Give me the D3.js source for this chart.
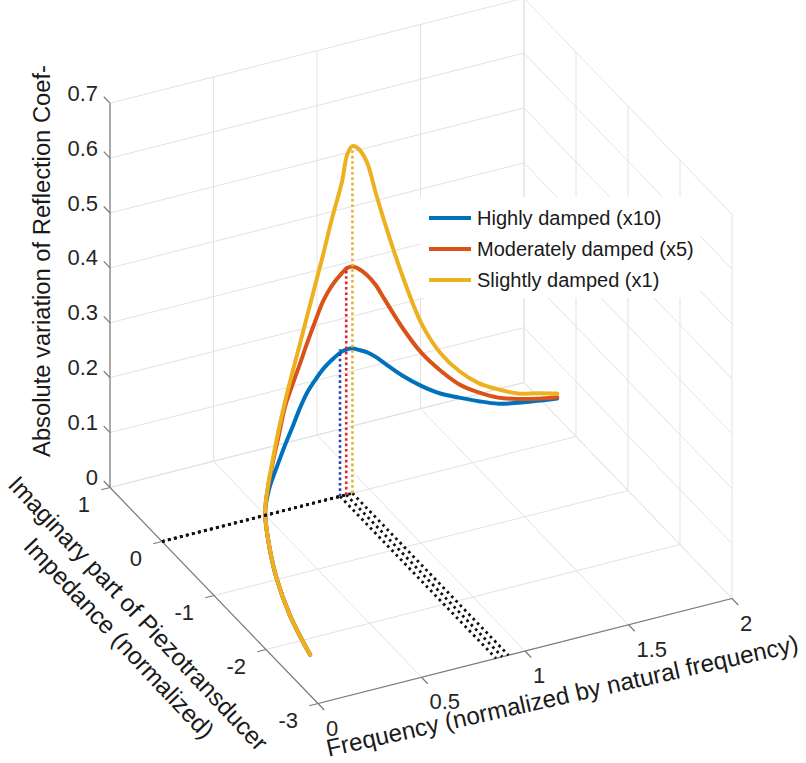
<!DOCTYPE html>
<html><head><meta charset="utf-8">
<script src="https://cdn.jsdelivr.net/npm/d3@7"></script>
<style>
body{margin:0;background:#fff}
svg{display:block}
text{font-family:"Liberation Sans",Arial,Helvetica,sans-serif}
</style>
</head><body>
<svg id="chart" width="806" height="763"></svg>
<script>
// ---------- data ----------
const frequency = [0.1,0.15,0.2,0.25,0.3,0.35,0.4,0.45,0.5,0.55,0.6,0.65,0.7,0.75,0.8,0.86,0.89,0.92,0.95,1.0,1.05,1.1,1.2,1.3,1.4,1.5,1.6,1.7,1.8,1.9,2.0];
const imagImpedance = [-2.45,-1.86,-1.40,-1.05,-0.79,-0.65,-0.55,-0.46,-0.37,-0.31,-0.25,-0.2,-0.16,-0.115,-0.08,-0.04,-0.02,0,0.017,0.045,0.07,0.095,0.14,0.18,0.22,0.25,0.28,0.30,0.32,0.34,0.36];
const highlyDamped = [0.025,0.035,0.054,0.08,0.102,0.12,0.135,0.149,0.163,0.184,0.207,0.228,0.243,0.254,0.262,0.268,0.267,0.264,0.257,0.245,0.229,0.210,0.173,0.141,0.114,0.094,0.075,0.059,0.049,0.041,0.034];
const moderatelyDamped = [0.025,0.035,0.054,0.08,0.104,0.132,0.165,0.198,0.232,0.261,0.287,0.318,0.350,0.378,0.397,0.411,0.415,0.413,0.405,0.386,0.360,0.326,0.259,0.201,0.156,0.118,0.091,0.070,0.056,0.045,0.036];
const slightlyDamped = [0.025,0.035,0.054,0.08,0.105,0.134,0.171,0.209,0.241,0.283,0.322,0.367,0.416,0.463,0.518,0.578,0.622,0.632,0.624,0.592,0.528,0.466,0.352,0.254,0.188,0.142,0.108,0.085,0.066,0.055,0.043];
const seriesNames = ["Highly damped (x10)","Moderately damped (x5)","Slightly damped (x1)"];
const seriesColors = ["#0072BD","#D95319","#EDB120"];
const markerColors = ["#2f3fb0","#e0242a","#e8b030"];
const xTicks = [0,0.5,1,1.5,2];
const xTickLabels = ["0","0.5","1","1.5","2"];
const yTicks = [-3,-2,-1,0,1];
const yTickLabels = ["-3","-2","-1","0","1"];
const zTicks = [0,0.1,0.2,0.3,0.4,0.5,0.6,0.7];
const zTickLabels = ["0","0.1","0.2","0.3","0.4","0.5","0.6","0.7"];
const xTitle = "Frequency (normalized by natural frequency)";
const yTitle = ["Imaginary part of Piezotransducer","Impedance (normalized)"];
const zTitle = "Absolute variation of Reflection Coef-";

// ---------- projection ----------
const xS = d3.scaleLinear().domain([0,2]).range([0,1]);
const yS = d3.scaleLinear().domain([-3,1]).range([0,1]);
const zS = d3.scaleLinear().domain([0,0.7]).range([0,1]);
const O = [318,703.5], EX = [414,-105], EY = [-208,-216], EZ = [0,-384.3];
function P(x,y,z){
  const a=xS(x), b=yS(y), c=zS(z);
  return [O[0]+a*EX[0]+b*EY[0]+c*EZ[0], O[1]+a*EX[1]+b*EY[1]+c*EZ[1]];
}
const svg = d3.select("#chart");
const gGrid = svg.append("g"), gAxis = svg.append("g"), gData = svg.append("g"), gDot = svg.append("g"), gLeg = svg.append("g");
function seg(g, a, b, attrs){
  const l = g.append("line").attr("x1",a[0]).attr("y1",a[1]).attr("x2",b[0]).attr("y2",b[1]);
  Object.entries(attrs).forEach(([k,v])=>l.attr(k,v));
  return l;
}
const gridStyle = {stroke:"#e2e2e2","stroke-width":1};
const [x0,x1] = xS.domain(), [y0,y1] = yS.domain(), [z0,z1] = zS.domain();
// floor
xTicks.forEach(t=>seg(gGrid,P(t,y0,z0),P(t,y1,z0),gridStyle));
yTicks.forEach(t=>seg(gGrid,P(x0,t,z0),P(x1,t,z0),gridStyle));
// back wall (y = max)
xTicks.forEach(t=>seg(gGrid,P(t,y1,z0),P(t,y1,z1),gridStyle));
zTicks.forEach(t=>seg(gGrid,P(x0,y1,t),P(x1,y1,t),gridStyle));
// right wall (x = max)
yTicks.forEach(t=>seg(gGrid,P(x1,t,z0),P(x1,t,z1),gridStyle));
zTicks.forEach(t=>seg(gGrid,P(x1,y0,t),P(x1,y1,t),gridStyle));

// axes
const axStyle = {stroke:"#7a7a7a","stroke-width":1.2};
seg(gAxis,P(x0,y1,z0),P(x0,y1,z1),axStyle);
seg(gAxis,P(x0,y1,z0),P(x0,y0,z0),axStyle);
seg(gAxis,P(x0,y0,z0),P(x1,y0,z0),axStyle);
function unit(v){const n=Math.hypot(v[0],v[1]);return [v[0]/n,v[1]/n];}
const TL = 9;
const dz = unit(EY), dy = unit([-EX[0],-EX[1]]), dx = unit([-EY[0],-EY[1]]);
const tickFont = 22;
zTicks.forEach((t,i)=>{
  const p=P(x0,y1,t);
  seg(gAxis,p,[p[0]+dz[0]*TL,p[1]+dz[1]*TL],axStyle);
  gAxis.append("text").attr("x",p[0]-12).attr("y",p[1]-10).attr("text-anchor","end")
    .attr("dominant-baseline","central").attr("font-size",tickFont).attr("fill","#262626").text(zTickLabels[i]);
});
yTicks.forEach((t,i)=>{
  const p=P(x0,t,z0);
  seg(gAxis,p,[p[0]+dy[0]*TL,p[1]+dy[1]*TL],axStyle);
  gAxis.append("text").attr("x",p[0]-20).attr("y",p[1]+17).attr("text-anchor","end")
    .attr("dominant-baseline","central").attr("font-size",tickFont).attr("fill","#262626").text(yTickLabels[i]);
});
xTicks.forEach((t,i)=>{
  const p=P(t,y0,z0);
  seg(gAxis,p,[p[0]+dx[0]*TL,p[1]+dx[1]*TL],axStyle);
  gAxis.append("text").attr("x",p[0]+8).attr("y",p[1]+24.5).attr("text-anchor","start")
    .attr("dominant-baseline","central").attr("font-size",tickFont).attr("fill","#262626").text(xTickLabels[i]);
});
// titles, fitted to target lengths
function fit(t, len){
  t.attr("font-size",24);
  const L=t.node().getComputedTextLength();
  t.attr("font-size",24*len/L);
}
const tz = gAxis.append("text").attr("transform","translate(50,261) rotate(-90)").attr("text-anchor","middle").attr("fill","#1a1a1a").text(zTitle);
fit(tz,392);
const tx = gAxis.append("text").attr("transform","translate(564,704) rotate(-12.6)").attr("text-anchor","middle").attr("fill","#1a1a1a").text(xTitle);
fit(tx,483);
const ty1 = gAxis.append("text").attr("transform","translate(132,619) rotate(46.8)").attr("text-anchor","middle").attr("fill","#1a1a1a").text(yTitle[0]);
fit(ty1,366);
const ty2 = gAxis.append("text").attr("transform","translate(113,644) rotate(46.8)").attr("text-anchor","middle").attr("fill","#1a1a1a").text(yTitle[1]);
fit(ty2,265);

// curves
const series = [highlyDamped, moderatelyDamped, slightlyDamped];
const line = d3.line().curve(d3.curveCatmullRom.alpha(0.5));
series.forEach((vals,si)=>{
  const pts = frequency.map((f,i)=>P(f,imagImpedance[i],vals[i]));
  gData.append("path").attr("d",line(pts)).attr("fill","none").attr("stroke",seriesColors[si])
    .attr("stroke-width",4).attr("stroke-linejoin","round").attr("stroke-linecap","round");
});
// resonance markers (dotted)
series.forEach((vals,si)=>{
  const idx = d3.maxIndex(vals);
  const fp = frequency[idx], zp = vals[idx];
  const blk = {stroke:"#111","stroke-width":2.8,"stroke-dasharray":"2.6,3.6"};
  seg(gDot,P(x0,0,z0),P(fp,0,z0),blk);
  seg(gDot,P(fp,0,z0),P(fp,y0,z0),blk);
  seg(gDot,P(fp,0,z0),P(fp,0,zp),{stroke:markerColors[si],"stroke-width":2.6,"stroke-dasharray":"2.6,2.8"});
});

// legend
gLeg.append("rect").attr("x",420).attr("y",197).attr("width",280).attr("height",101).attr("fill","#fff");
seriesNames.forEach((n,i)=>{
  const yy = 218 + i*31;
  seg(gLeg,[429,yy],[471,yy],{stroke:seriesColors[i],"stroke-width":4});
  gLeg.append("text").attr("x",477).attr("y",yy).attr("dominant-baseline","central")
    .attr("font-size",20).attr("fill","#1a1a1a").text(n);
});
</script>
</body></html>
